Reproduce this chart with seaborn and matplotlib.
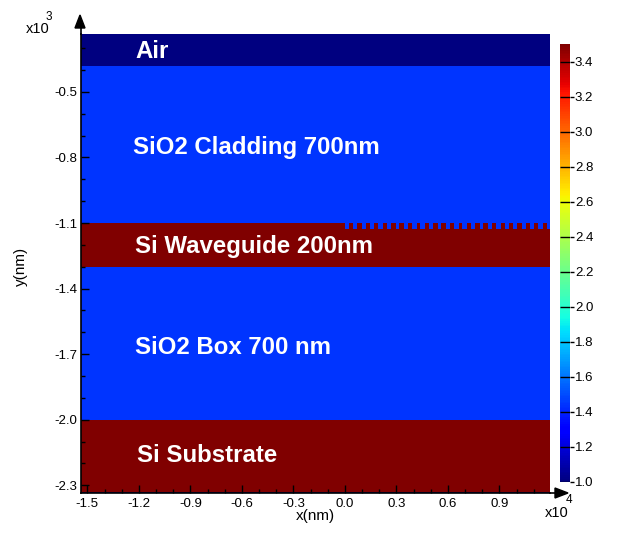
import numpy as np
import matplotlib
matplotlib.use("Agg")
import matplotlib.pyplot as plt
import seaborn as sns

# layers, top to bottom (y in nm)
layer_names = ["Air", "SiO2 Cladding 700nm", "Si Waveguide 200nm", "SiO2 Box 700 nm", "Si Substrate"]
layer_top = [-235, -380, -1100, -1300, -2000]
layer_bottom = [-380, -1100, -1300, -2000, -2332]
layer_index = [1.0, 1.44, 3.5, 1.44, 3.5]

# grating etched in the top of the waveguide
grating_start = 0
grating_period = 490
grating_notch = 245
grating_depth = 27

x_min, x_max = -15400, 11930
y_ticks = [-0.5, -0.8, -1.1, -1.4, -1.7, -2.0, -2.3]
x_ticks = [-1.5, -1.2, -0.9, -0.6, -0.3, 0.0, 0.3, 0.6, 0.9]
cbar_ticks = [1.0, 1.2, 1.4, 1.6, 1.8, 2.0, 2.2, 2.4, 2.6, 2.8, 3.0, 3.2, 3.4]

dx, dy = 25, 5
xs = np.arange(x_min, x_max, dx) + dx / 2
ys = np.arange(layer_top[0], layer_bottom[-1], -dy) - dy / 2

grid = np.zeros((len(ys), len(xs)))
for top, bottom, n in zip(layer_top, layer_bottom, layer_index):
    grid[(ys <= top) & (ys > bottom), :] = n
in_notch = (xs >= grating_start) & ((xs - grating_start) % grating_period < grating_notch)
rows = (ys <= layer_top[2]) & (ys > layer_top[2] - grating_depth)
grid[np.ix_(rows, in_notch)] = layer_index[1]

plt.rcParams["font.family"] = ["Liberation Sans", "DejaVu Sans"]
W, H = 630, 559
fig = plt.figure(figsize=(W / 100, H / 100), dpi=100)


def box(x0, y0, x1, y1):
    return [x0 / W, 1 - y1 / H, (x1 - x0) / W, (y1 - y0) / H]


ax = fig.add_axes(box(80.5, 34, 550, 493))
cax = fig.add_axes(box(560, 44, 570, 482))

sns.heatmap(grid, ax=ax, cbar_ax=cax, cmap="jet", vmin=1.0, vmax=layer_index[2],
            xticklabels=False, yticklabels=False)


def to_col(x_nm):
    return (np.asarray(x_nm) - x_min) / dx


def to_row(y_nm):
    return (layer_top[0] - np.asarray(y_nm)) / dy


ax.set_xticks(to_col(np.array(x_ticks) * 1e4))
ax.set_xticklabels(["%.1f" % v for v in x_ticks], fontsize=9.5, rotation=0)
ax.set_yticks(to_row(np.array(y_ticks) * 1e3))
ax.set_yticklabels(["%.1f" % v for v in y_ticks], fontsize=9.5, rotation=0)
ax.set_xticks(to_col(np.arange(-1.5, 1.2, 0.1) * 1e4), minor=True)
ax.set_yticks(to_row(np.arange(-2.3, -0.2, 0.1) * 1e3), minor=True)
ax.tick_params(which="major", direction="in", length=5.5, width=1, color="black")
ax.tick_params(which="minor", direction="in", length=3, width=1, color="black")
ax.tick_params(axis="x", which="major", pad=3.5)
ax.tick_params(axis="y", which="major", pad=2.5)

for side in ["top", "right"]:
    ax.spines[side].set_visible(False)
for side in ["left", "bottom"]:
    ax.spines[side].set_visible(True)
    ax.spines[side].set_linewidth(1.2)
    ax.spines[side].set_color("black")

cbar = ax.collections[0].colorbar
cbar.outline.set_visible(False)
cbar.set_ticks(cbar_ticks)
cbar.set_ticklabels(["%.1f" % v for v in cbar_ticks])
cax.tick_params(direction="out", length=3, width=1, pad=0.5, labelsize=9.5)
cax.hlines(cbar_ticks, 0, 1, transform=cax.get_yaxis_transform(), color="black", lw=1)

# arrow heads on the axes
fig.add_artist(plt.Polygon([[75 / W, 1 - 28 / H], [85 / W, 1 - 28 / H], [80 / W, 1 - 15 / H]],
                           closed=True, color="black", transform=fig.transFigure))
fig.add_artist(plt.Line2D([80.5 / W, 80.5 / W], [1 - 34 / H, 1 - 26 / H], color="black", lw=1.2))
fig.add_artist(plt.Polygon([[555 / W, 1 - 488 / H], [555 / W, 1 - 498 / H], [568 / W, 1 - 493 / H]],
                           closed=True, color="black", transform=fig.transFigure))
fig.add_artist(plt.Line2D([550 / W, 557 / W], [1 - 493 / H, 1 - 493 / H], color="black", lw=1.2))


def label(x, y, s, **kw):
    fig.text(x / W, 1 - y / H, s, va="center", **kw)


label_pos = [(135, 52), (133, 147), (135, 246), (135, 347), (137, 456)]
for name, (px, py) in zip(layer_names, label_pos):
    label(px, py, name, color="white", fontsize=17.3, fontweight="bold")

label(315, 516, "x(nm)", ha="center", fontsize=11)
label(21, 266, "y(nm)", ha="center", rotation=90, fontsize=11)
label(26, 29, "x10", fontsize=10.5)
label(46, 17, "3", fontsize=8.5)
label(545, 513, "x10", fontsize=10.5)
label(566, 500, "4", fontsize=8.5)

fig.savefig("out.png", dpi=100)
